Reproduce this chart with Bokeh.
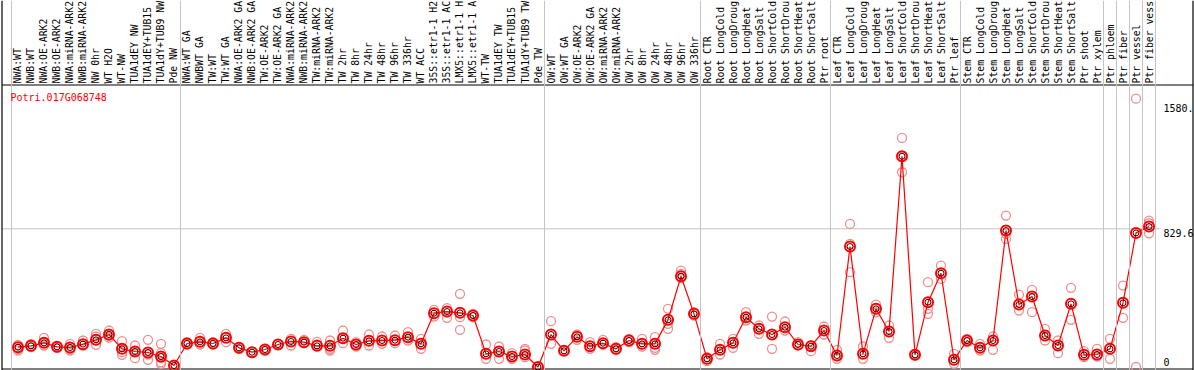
import math
from bokeh.plotting import figure
from bokeh.models import Range1d, Span, Label
from bokeh.core.properties import value
from bokeh.embed import file_html
from bokeh.resources import INLINE

gene = "Potri.017G068748"

# category labels as far as they are visible in the chart header
labels = [
    "NWA:WT", "NWB:WT", "NWA:OE-ARK2", "NWB:OE-ARK2", "NWA:miRNA-ARK2",
    "NWB:miRNA-ARK2", "NW 0hr", "WT H2O", "WT-NW", "TUA1dEY NW",
    "TUA1dEY+TUB15", "TUA1dY+TUB9 NW", "Pde NW",
    "NWA:WT GA", "NWBWT GA", "TW:WT", "TW:WT GA", "NWA:OE-ARK2 GA",
    "NWB:OE-ARK2 GA", "TW:OE-ARK2", "TW:OE-ARK2 GA", "NWA:miRNA-ARK2",
    "NWB:miRNA-ARK2", "TW:miRNA-ARK2", "TW:miRNA-ARK2", "TW 2hr", "TW 8hr",
    "TW 24hr", "TW 48hr", "TW 96hr", "TW 336hr", "WT ACC",
    "35S::etr1-1 H2", "35S::etr1-1 AC", "LMX5::etr1-1 H",
    "LMX5::etr1-1 A", "WT-TW", "TUA1dEY TW", "TUA1dEY+TUB15",
    "TUA1dY+TUB9 TW", "Pde TW",
    "OW:WT", "OW:WT GA", "OW:OE-ARK2", "OW:OE-ARK2 GA", "OW:miRNA-ARK2",
    "OW:miRNA-ARK2", "OW 2hr", "OW 8hr", "OW 24hr", "OW 48hr", "OW 96hr",
    "OW 336hr",
    "Root CTR", "Root LongCold", "Root LongDroug", "Root LongHeat",
    "Root LongSalt", "Root ShortCold", "Root ShortDrou", "Root ShortHeat",
    "Root ShortSalt", "Ptr root",
    "Leaf CTR", "Leaf LongCold", "Leaf LongDroug", "Leaf LongHeat",
    "Leaf LongSalt", "Leaf ShortCold", "Leaf ShortDrou", "Leaf ShortHeat",
    "Leaf ShortSalt", "Ptr leaf",
    "Stem CTR", "Stem LongCold", "Stem LongDroug", "Stem LongHeat",
    "Stem LongSalt", "Stem ShortCold", "Stem ShortDrou", "Stem ShortHeat",
    "Stem ShortSalt", "Ptr shoot", "Ptr xylem", "Ptr phloem", "Ptr fiber",
    "Ptr vessel", "Ptr fiber vess",
]

means = [
    119, 127, 145, 121, 117, 137, 163, 195, 109, 93, 87, 63, 9,
    141, 151, 141, 175, 115, 89, 105, 135, 153, 149, 127, 127, 173, 135,
    157, 159, 161, 179, 139, 323, 333, 325, 309, 79, 93, 63, 75, 0,
    195, 97, 181, 125, 143, 109, 159, 139, 139, 283, 545, 319,
    49, 103, 145, 299, 229, 195, 239, 135, 125, 219,
    69, 723, 79, 349, 213, 1265, 73, 389, 563, 43,
    159, 115, 159, 819, 375, 423, 189, 129, 379, 73, 75, 109, 385, 805, 843,
]

replicates = [
    [133, 109, 99], [139, 119], [175, 145, 129], [123, 115], [139, 109, 99],
    [159, 129], [199, 183, 133], [219, 189, 177], [155, 89, 73],
    [129, 53, 93], [163, 75, 43], [139, 83, 55, 29, 19], [9],
    [149, 135], [175, 135], [149, 135], [199, 149], [119, 109], [89],
    [109, 99], [139], [169, 129], [163, 143], [151, 135], [159, 109, 99],
    [219, 143], [149, 123], [195, 129], [183, 139], [189, 143], [209, 159],
    [169, 109], [343, 303], [353, 295], [439, 299, 223], [319, 299],
    [135, 49], [123, 49], [83, 49], [109, 99, 59], [0],
    [275, 139], [99], [195, 163], [149, 109], [163, 135], [119, 103],
    [169, 149], [169, 123], [179, 115, 103], [349, 259, 229],
    [579, 559, 535], [329, 309],
    [59, 35], [139, 75], [169, 115], [329, 279], [249, 199], [303, 109],
    [273, 219], [149, 129], [129, 95], [243, 195],
    [103, 49], [859, 739, 569], [123, 49], [375, 329], [249, 175],
    [1375, 1265, 1169], [79, 69], [509, 349, 319], [609, 529], [79, 19],
    [169, 149], [139, 99], [183, 103], [909, 799, 769], [435, 339],
    [463, 329], [229, 159], [159, 83], [475, 283], [95, 59], [109, 63],
    [169, 49], [489, 295], [1611, 0], [879, 863, 803],
]

# first column of each block that is preceded by a vertical separator
separator_before = [0, 13, 41, 53, 63, 73, 84, 85, 86, 87, 88]

y_ticks = [0, 829.6, 1580.0]
y_tick_labels = ["0", "829.6", "1580."]

# ---------------------------------------------------------------- layout
X_LO, X_HI = -1.34615, 90.5
Y_LO, Y_HI = -21.0, 2200.1
LABEL_Y = 1701.8
BASE_Y = 1692.8
BOTTOM_Y = -12.0
LEFT_X, RIGHT_X = -1.2308, 90.385
GRID_END_X = 87.885
TICK_X = 88.115
GRID_COLOR = "#c4c4c4"
FONT_NAME = "DejaVu Sans Mono"
FONT = value(FONT_NAME)

p = figure(width=1194, height=370,
           x_range=Range1d(X_LO, X_HI), y_range=Range1d(Y_LO, Y_HI),
           output_backend="svg", toolbar_location=None,
           x_axis_location=None, y_axis_location=None,
           min_border=0, outline_line_color=None,
           background_fill_color="white", border_fill_color="white")
p.grid.visible = False

idx = list(range(len(labels)))

# vertical separators (full height)
for b in separator_before:
    p.add_layout(Span(location=b - 0.5, dimension="height",
                      line_color=GRID_COLOR, line_width=1))

# horizontal grid line at middle tick
p.segment(x0=[LEFT_X], y0=[y_ticks[1]], x1=[GRID_END_X], y1=[y_ticks[1]],
          line_color=GRID_COLOR, line_width=1)

# frame lines: left, right, bottom, header base
p.segment(x0=[LEFT_X, RIGHT_X, LEFT_X, LEFT_X],
          y0=[Y_LO, Y_LO, BOTTOM_Y, BASE_Y],
          x1=[LEFT_X, RIGHT_X, RIGHT_X, RIGHT_X],
          y1=[Y_HI, Y_HI, BOTTOM_Y, BASE_Y],
          line_color="black", line_width=1.2)

# category labels
p.text(x=idx, y=[LABEL_Y] * len(labels), text=labels, angle=math.pi / 2,
       text_align="left", text_baseline="middle", text_font=FONT,
       text_font_size="9.8px", text_color="black")

# y tick labels
p.text(x=[TICK_X] * len(y_ticks), y=y_ticks, text=y_tick_labels,
       y_offset=[-5, 4, 4], text_align="left", text_baseline="middle",
       text_font=FONT, text_font_size="10px", text_color="black")

# replicate points
rx, ry = [], []
for i, reps in enumerate(replicates):
    for v in reps:
        rx.append(i)
        ry.append(v)
p.scatter(rx, ry, marker="circle", size=9, fill_color=None,
          line_color="#ee8f8f", line_width=1.3)

# mean line + markers
p.line(idx, means, line_color="#ff0000", line_width=1.2)
p.scatter(idx, means, marker="circle", size=10, fill_color=None,
          line_color="#ff0000", line_width=2)
p.scatter(idx, means, marker="circle", size=6, fill_color=None,
          line_color="#300000", line_width=1)

# gene title
p.add_layout(Label(x=-0.577, y=1617.8, text=gene, text_color="#ff0000",
                   text_font=FONT_NAME, text_font_size="10px",
                   text_baseline="middle", text_align="left"))

open("out.html", "w").write(file_html(p, INLINE))
